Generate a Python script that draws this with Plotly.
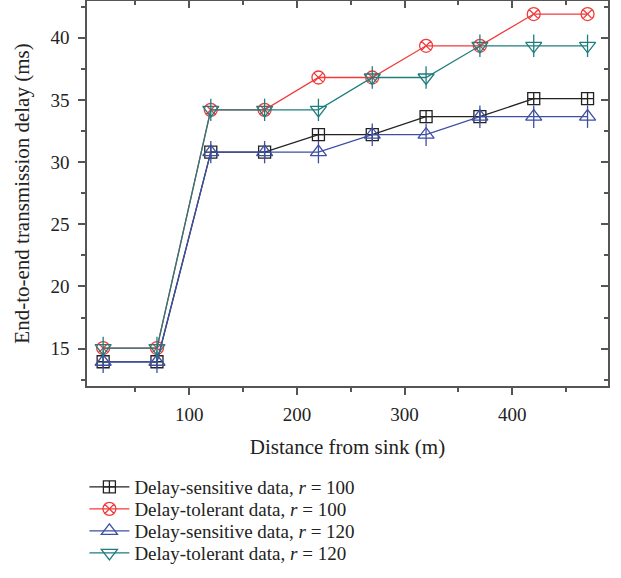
import plotly.graph_objects as go

distance = [20, 70, 120, 170, 220, 270, 320, 370, 420, 470]
sens_r100 = [13.95, 13.95, 30.8, 30.8, 32.2, 32.2, 33.65, 33.65, 35.1, 35.1]
tol_r100 = [15.05, 15.05, 34.2, 34.2, 36.8, 36.8, 39.35, 39.35, 41.9, 41.9]
sens_r120 = [13.95, 13.95, 30.8, 30.8, 30.8, 32.2, 32.2, 33.65, 33.65, 33.65]
tol_r120 = [15.05, 15.05, 34.2, 34.2, 34.2, 36.8, 36.8, 39.35, 39.35, 39.35]

names = ["Delay-sensitive data, <i>r</i> = 100", "Delay-tolerant data, <i>r</i> = 100",
         "Delay-sensitive data, <i>r</i> = 120", "Delay-tolerant data, <i>r</i> = 120"]

FONT = "Liberation Serif"
AX = "#555555"
XR = [5, 489]
YR = [12, 42.95]

fig = go.Figure()
series = [
    (sens_r100, "#222222", "square-cross-open", 12),
    (tol_r100, "#f23a3a", "circle-x-open", 13),
    (sens_r120, "#3d4fa3", "triangle-up-open", 14),
    (tol_r120, "#1f7d7d", "triangle-down-open", 14),
]
legend_ids = ["legend", "legend2", "legend3", "legend4"]

for (vals, col, sym, sz), nm, lg in zip(series, names, legend_ids):
    fig.add_trace(go.Scatter(x=distance, y=vals, name=nm, mode="lines+markers", legend=lg,
                             line=dict(color=col, width=1.3),
                             marker=dict(symbol=sym, size=sz, color=col, line=dict(color=col, width=1.3))))
    if "triangle" in sym:
        fig.add_trace(go.Scatter(x=distance, y=vals, mode="markers", showlegend=False,
                                 xaxis="x2", yaxis="y2",
                                 marker=dict(symbol="line-ns-open", size=sz + 2, color=col,
                                             line=dict(color=col, width=1.3)),
                                 hoverinfo="skip"))

axis_common = dict(showline=True, linecolor=AX, linewidth=1.5, showgrid=False, zeroline=False,
                   tickcolor=AX, tickwidth=1.5, ticklen=7)
tickfont = dict(family=FONT, size=19, color="#222")

legend_common = dict(xref="paper", x=-0.005, xanchor="left", yref="container", yanchor="middle",
                     font=dict(family=FONT, size=19, color="#222"), bgcolor="rgba(0,0,0,0)",
                     itemwidth=40, borderwidth=0)
ys = [487, 509, 531, 553]

fig.update_layout(
    width=621, height=578,
    margin=dict(l=87, r=13, t=1, b=192, autoexpand=False),
    paper_bgcolor="white", plot_bgcolor="white",
    font=dict(family=FONT, size=19, color="#222"),
    xaxis=dict(range=XR, tickvals=[100, 200, 300, 400], ticks="outside", tickfont=tickfont,
               minor=dict(ticks="outside", ticklen=4, tickcolor=AX, tickwidth=1.5, dtick=50, tick0=0),
               title=dict(text="Distance from sink (m)", font=dict(family=FONT, size=21), standoff=16),
               ticklabelstandoff=3, **axis_common),
    yaxis=dict(range=YR, tickvals=[15, 20, 25, 30, 35, 40], ticks="outside", tickfont=tickfont,
               minor=dict(ticks="outside", ticklen=4, tickcolor=AX, tickwidth=1.5, dtick=2.5, tick0=0),
               title=dict(text="End-to-end transmission delay (ms)", font=dict(family=FONT, size=21), standoff=15),
               ticklabelstandoff=5, **axis_common),
    xaxis2=dict(overlaying="x", side="top", anchor="y2", range=XR, tickvals=[100, 200, 300, 400],
                ticks="inside", showticklabels=False,
                minor=dict(ticks="inside", ticklen=4, tickcolor=AX, tickwidth=1.5, dtick=50, tick0=0),
                **axis_common),
    yaxis2=dict(overlaying="y", side="right", anchor="x2", range=YR, tickvals=[15, 20, 25, 30, 35, 40],
                ticks="inside", showticklabels=False,
                minor=dict(ticks="inside", ticklen=4, tickcolor=AX, tickwidth=1.5, dtick=2.5, tick0=0),
                **axis_common),
    legend=dict(y=1 - ys[0] / 578, **legend_common),
    legend2=dict(y=1 - ys[1] / 578, **legend_common),
    legend3=dict(y=1 - ys[2] / 578, **legend_common),
    legend4=dict(y=1 - ys[3] / 578, **legend_common),
    showlegend=True,
)

fig.write_html("out.html")
